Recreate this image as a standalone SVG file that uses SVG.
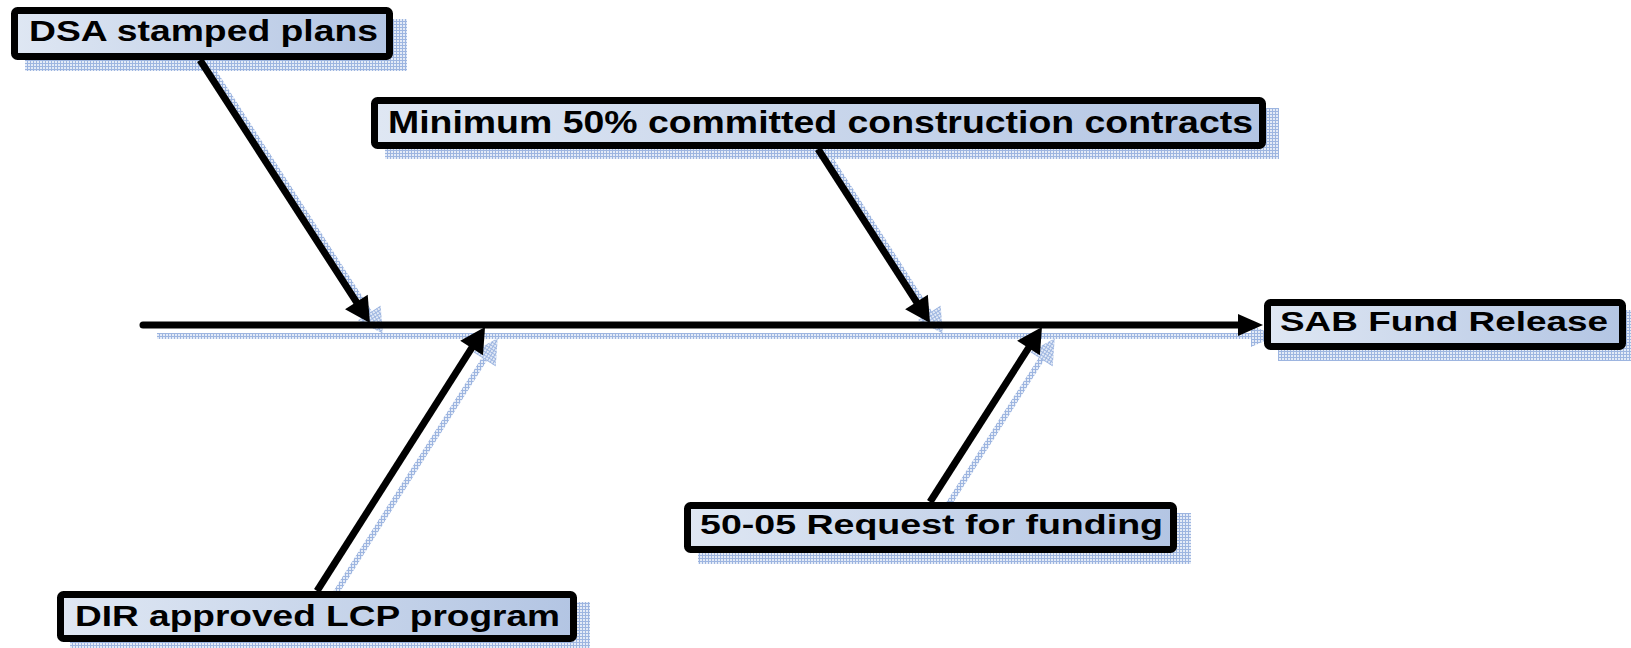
<svg xmlns="http://www.w3.org/2000/svg" width="1631" height="648" viewBox="0 0 1631 648">
<defs>
<pattern id="dith" width="3" height="3" patternUnits="userSpaceOnUse">
<rect width="3" height="3" fill="#e4ebf7"/>
<rect width="3" height="1" fill="#9db5e0"/>
<rect width="1" height="3" fill="#9db5e0"/>
</pattern>
<linearGradient id="fill" x1="0" y1="0" x2="1" y2="0">
<stop offset="0" stop-color="#dfe7f3"/>
<stop offset="1" stop-color="#b3c5e3"/>
</linearGradient>
<marker id="ah" markerUnits="userSpaceOnUse" markerWidth="30" markerHeight="30" refX="5" refY="0" viewBox="0 -15 26 30" orient="auto" overflow="visible">
<path d="M0,-13.5 L25,0 L0,13.5 Z" fill="#000"/>
</marker>
<marker id="ahs" markerUnits="userSpaceOnUse" markerWidth="30" markerHeight="30" refX="5" refY="0" viewBox="0 -15 26 30" orient="auto" overflow="visible">
<path d="M0,-13.5 L25,0 L0,13.5 Z" fill="url(#dith)"/>
</marker>
<marker id="ahm" markerUnits="userSpaceOnUse" markerWidth="30" markerHeight="30" refX="5" refY="0" viewBox="0 -15 26 30" orient="auto" overflow="visible">
<path d="M0,-11 L25,0 L0,11 Z" fill="#000"/>
</marker>
<marker id="ahms" markerUnits="userSpaceOnUse" markerWidth="30" markerHeight="30" refX="5" refY="0" viewBox="0 -15 26 30" orient="auto" overflow="visible">
<path d="M0,-11 L25,0 L0,11 Z" fill="url(#dith)"/>
</marker>
</defs>
<style>
.box{fill:url(#fill);stroke:#000;stroke-width:7}
.sh{fill:url(#dith)}
.lbl{font-family:"Liberation Sans",Arial,sans-serif;font-weight:bold;fill:#000}
.ln{stroke:#000;stroke-width:7;fill:none}
.lns{stroke:url(#dith);stroke-width:6;fill:none}
</style>
<rect width="1631" height="648" fill="#fff"/>
<g id="shadows">
<rect class="sh" x="25" y="19" width="382" height="52"/>
<rect class="sh" x="385" y="108" width="894" height="51"/>
<rect class="sh" x="1278" y="310" width="362" height="51"/>
<rect class="sh" x="698" y="513" width="493" height="51"/>
<rect class="sh" x="70" y="602" width="520" height="51"/>
</g>
<g id="connectors">
<line class="lns" x1="157" y1="336" x2="1256" y2="336" marker-end="url(#ahms)"/>
<line class="lns" x1="213" y1="71" x2="372" y2="317" marker-end="url(#ahs)"/>
<line class="lns" x1="831" y1="160" x2="932" y2="317" marker-end="url(#ahs)"/>
<line class="lns" x1="330" y1="602" x2="487" y2="355" marker-end="url(#ahs)"/>
<line class="lns" x1="943" y1="513" x2="1044" y2="355" marker-end="url(#ahs)"/>
<line class="ln" x1="143" y1="325" x2="1243" y2="325" stroke-linecap="round" marker-end="url(#ahm)"/>
<line class="ln" x1="200" y1="60" x2="359.1" y2="306.2" marker-end="url(#ah)"/>
<line class="ln" x1="818" y1="149" x2="919.2" y2="306.2" marker-end="url(#ah)"/>
<line class="ln" x1="317" y1="591" x2="474.3" y2="343.9" marker-end="url(#ah)"/>
<line class="ln" x1="930" y1="502" x2="1031.2" y2="343.8" marker-end="url(#ah)"/>
</g>
<g id="n-dsa">
<rect class="box" x="14.5" y="10.5" width="375" height="46" rx="3"/>
<text class="lbl" x="29" y="41" font-size="29" textLength="349" lengthAdjust="spacingAndGlyphs">DSA stamped plans</text>
</g>
<g id="n-min">
<rect class="box" x="374.5" y="100.5" width="888" height="45" rx="3"/>
<text class="lbl" x="388" y="133" font-size="32" textLength="865" lengthAdjust="spacingAndGlyphs">Minimum 50% committed construction contracts</text>
</g>
<g id="n-sab">
<rect class="box" x="1267.5" y="302.5" width="355" height="44" rx="3"/>
<text class="lbl" x="1280" y="330.5" font-size="28" textLength="328" lengthAdjust="spacingAndGlyphs">SAB Fund Release</text>
</g>
<g id="n-5005">
<rect class="box" x="687.5" y="505.5" width="486" height="44" rx="3"/>
<text class="lbl" x="700" y="533.5" font-size="28" textLength="463" lengthAdjust="spacingAndGlyphs">50-05 Request for funding</text>
</g>
<g id="n-dir">
<rect class="box" x="60.5" y="594.5" width="513" height="44" rx="3"/>
<text class="lbl" x="75" y="625.5" font-size="30" textLength="485" lengthAdjust="spacingAndGlyphs">DIR approved LCP program</text>
</g>
</svg>
